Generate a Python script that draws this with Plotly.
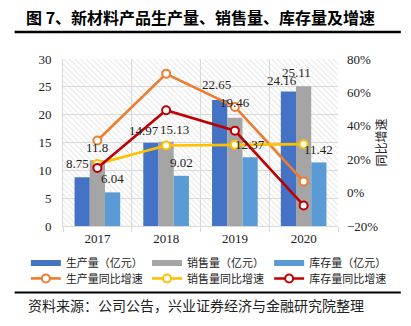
import base64
import plotly.graph_objects as go

years = ["2017", "2018", "2019", "2020"]
production = [8.75, 14.97, 22.65, 24.16]
sales = [11.8, 15.13, 19.46, 25.11]
inventory = [6.04, 9.02, 12.37, 11.42]
production_yoy = [31.2, 71.1, 51.3, 6.7]
sales_yoy = [17.2, 28.2, 28.6, 29.0]
inventory_yoy = [14.8, 49.3, 37.1, -7.7]

bar_names = ["生产量（亿元）", "销售量（亿元）", "库存量（亿元）"]
line_names = ["生产量同比增速", "销售量同比增速", "库存量同比增速"]
bar_colors = ["#4472C4", "#A5A5A5", "#5B9BD5"]
line_colors = ["#ED7D31", "#FFC000", "#C00000"]

# label placement tweaks (pixels): bar offset within group and per-label nudges
bar_offsets = [-15.3, 0.0, 15.3]
label_nudges = [[-5, -7, -3, -6], [0, 8, 0, -7], [0, 0, 0, 0]]
label_lifts = [[14, 12, 15, 11], [13, 12, 15, 14], [14, 13, 13, 13]]

# legend layout (paper coords): three columns, two rows
legend_cols = [-0.135, 0.3056, 0.7496]
legend_rows = [-0.222, -0.314]

serif = "Liberation Serif"
cjk = "Noto Sans CJK SC"
txt = "#222222"

fig = go.Figure()

annotations = []
series = [production, sales, inventory]
for i, (vals, name, col) in enumerate(zip(series, bar_names, bar_colors)):
    fig.add_trace(go.Bar(
        x=years, y=vals, name=name, marker=dict(color=col, line=dict(width=0)),
        showlegend=False, yaxis="y"))
    for j, v in enumerate(vals):
        annotations.append(dict(
            x=j, y=v, xref="x", yref="y", text=f"{v:g}", showarrow=False,
            xanchor="center", yanchor="middle",
            xshift=bar_offsets[i] + label_nudges[i][j], yshift=label_lifts[i][j],
            font=dict(family=serif, size=13, color=txt)))

for vals, name, col in zip([production_yoy, sales_yoy, inventory_yoy], line_names, line_colors):
    fig.add_trace(go.Scatter(
        x=years, y=vals, name=name, mode="lines+markers", yaxis="y2",
        line=dict(color=col, width=2.6),
        marker=dict(symbol="circle", size=8, color="white", line=dict(color=col, width=2)),
        cliponaxis=False, showlegend=False))

legend_layouts = {}
legend_common = dict(orientation="h", xanchor="left", yanchor="middle",
                     font=dict(family=cjk, size=11, color=txt),
                     itemwidth=30, bgcolor="rgba(0,0,0,0)")
k = 0
for r, (names, colors) in enumerate([(bar_names, bar_colors), (line_names, line_colors)]):
    for c, (name, col) in enumerate(zip(names, colors)):
        k += 1
        lname = "legend" if k == 1 else f"legend{k}"
        if r == 0:
            fig.add_trace(go.Scatter(x=[None], y=[None], name=name, mode="lines",
                                     line=dict(color=col, width=6), legend=lname))
        else:
            fig.add_trace(go.Scatter(x=[None], y=[None], name=name, mode="lines+markers",
                                     line=dict(color=col, width=2.6),
                                     marker=dict(symbol="circle", size=8, color="white",
                                                 line=dict(color=col, width=2)),
                                     legend=lname))
        legend_layouts[lname] = dict(x=legend_cols[c], y=legend_rows[r], **legend_common)

# hatched plot background
svg = ('<svg xmlns="http://www.w3.org/2000/svg" width="277" height="167">'
       '<defs><pattern id="p" width="4" height="4" patternUnits="userSpaceOnUse" '
       'patternTransform="rotate(-45)"><line x1="0" y1="0" x2="0" y2="4" '
       'stroke="#d2d2d2" stroke-width="1.1"/></pattern></defs>'
       '<rect width="277" height="167" fill="url(#p)"/></svg>')
src = "data:image/svg+xml;base64," + base64.b64encode(svg.encode()).decode()

annotations += [
    dict(text="<b>图 7、新材料产品生产量、销售量、库存量及增速</b>", xref="paper", yref="paper",
         x=0.50, y=1.252, xanchor="center", yanchor="middle", showarrow=False,
         font=dict(family=cjk, size=16, color="black")),
    dict(text="资料来源：公司公告，兴业证券经济与金融研究院整理", xref="paper", yref="paper",
         x=-0.136, y=-0.475, xanchor="left", yanchor="middle", showarrow=False,
         font=dict(family=cjk, size=14, color=txt)),
]

grid = "#d9d9d9"
fig.update_layout(
    width=411, height=326,
    margin=dict(l=63, r=73, t=59, b=100),
    paper_bgcolor="white", plot_bgcolor="rgba(0,0,0,0)",
    barmode="group", bargap=0.336, bargroupgap=0,
    images=[dict(source=src, xref="paper", yref="paper", x=0, y=1, sizex=1, sizey=1,
                 sizing="stretch", layer="below", xanchor="left", yanchor="top")],
    xaxis=dict(type="category", range=[-0.5, 3.5], tickson="boundaries", ticks="outside",
               ticklen=5, tickcolor=grid, showgrid=True, gridcolor=grid, gridwidth=1,
               showline=True, linecolor=grid, linewidth=1,
               tickfont=dict(family=serif, size=13, color=txt)),
    yaxis=dict(range=[0, 30], dtick=5, showgrid=True, gridcolor=grid, gridwidth=1,
               showline=True, linecolor=grid, zeroline=False, ticks="",
               ticklabelstandoff=8,
               tickfont=dict(family=serif, size=13, color=txt)),
    yaxis2=dict(range=[-20, 80], dtick=20, ticksuffix="%", overlaying="y", side="right",
                showgrid=False, zeroline=False, showline=False, ticks="",
                ticklabelstandoff=8,
                tickfont=dict(family=serif, size=13, color=txt),
                title=dict(text="同比增速", font=dict(family=cjk, size=12, color=txt),
                           standoff=0)),
    shapes=[
        dict(type="line", xref="paper", yref="paper", x0=-0.176, x1=1.2285, y0=1.162, y1=1.162,
             line=dict(color="black", width=2.5)),
        dict(type="line", xref="paper", yref="paper", x0=-0.176, x1=1.2285, y0=-0.398, y1=-0.398,
             line=dict(color="black", width=2)),
    ],
    annotations=annotations,
    **legend_layouts,
)

fig.write_html("out.html")
